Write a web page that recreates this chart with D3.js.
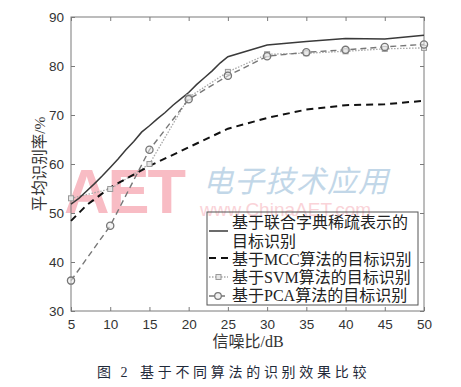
<!DOCTYPE html>
<html>
<head>
<meta charset="utf-8">
<script src="https://cdn.jsdelivr.net/npm/d3@7"></script>
<style>
  body { margin: 0; background: #fff; }
  svg { display: block; }
</style>
</head>
<body>
<svg width="461" height="387"></svg>
<script>
// data
var snr = [5, 10, 15, 20, 25, 30, 35, 40, 45, 50];
var jointX = [5, 6, 7, 8, 9, 10, 11, 12, 13, 14, 15, 16, 17, 18, 19, 20, 21, 22, 23, 24, 25, 30, 35, 40, 45, 50];
var jointY = [51.8, 53.0, 54.5, 56.0, 57.6, 59.3, 61.0, 62.9, 64.6, 66.5, 67.8, 69.2, 70.5, 72.0, 73.3, 74.6, 76.2, 77.6, 79.0, 80.6, 81.9, 84.3, 85.0, 85.6, 85.5, 86.3];
var mccX = [5, 6, 7, 8, 9, 10, 15, 20, 25, 30, 35, 40, 45, 50];
var mccY = [48.4, 50.0, 51.6, 52.8, 54.0, 55.2, 59.6, 63.4, 67.2, 69.4, 71.1, 72.0, 72.2, 72.9];
var svmY = [53.0, 54.9, 60.0, 73.6, 78.8, 82.4, 82.6, 83.0, 83.5, 83.7];
var pcaY = [36.2, 47.4, 62.9, 73.2, 78.0, 82.0, 82.8, 83.3, 83.9, 84.4];
var xTicks = [5, 10, 15, 20, 25, 30, 35, 40, 45, 50];
var yTicks = [30, 40, 50, 60, 70, 80, 90];
var legendLabels = [["基于联合字典稀疏表示的", "目标识别"], ["基于MCC算法的目标识别"], ["基于SVM算法的目标识别"], ["基于PCA算法的目标识别"]];

var svg = d3.select("svg");
var x = d3.scaleLinear().domain([5, 50]).range([71, 424]);
var y = d3.scaleLinear().domain([30, 90]).range([311, 17]);

var serif = "'Liberation Serif','Noto Sans CJK SC',serif";

// watermark
svg.append("text").attr("x", 64).attr("y", 213)
  .style("font-family", "'Liberation Sans',Arial,sans-serif").style("font-weight", "bold")
  .style("font-size", "63px").style("fill", "#f8bcc4").style("letter-spacing", "-2px")
  .text("AET");
svg.append("text").attr("x", 203).attr("y", 192)
  .style("font-family", "'Noto Sans CJK SC',sans-serif").style("font-size", "30px")
  .style("fill", "#c2d7e8").style("font-style", "italic").style("letter-spacing", "1px")
  .text("电子技术应用");
svg.append("text").attr("x", 200).attr("y", 216)
  .style("font-family", "'Liberation Sans',Arial,sans-serif").style("font-size", "19px")
  .style("fill", "#fad3d8")
  .text("www.ChinaAET.com");

// axes frame
svg.append("rect").attr("x", 71).attr("y", 17).attr("width", 353).attr("height", 294)
  .attr("fill", "none").attr("stroke", "#7a7a7a").attr("stroke-width", 1);

var xAxis = svg.append("g").attr("transform", "translate(0,311)")
  .call(d3.axisBottom(x).tickValues(xTicks).tickSize(-4).tickPadding(8));
var xTop = svg.append("g").attr("transform", "translate(0,17)")
  .call(d3.axisTop(x).tickValues(xTicks).tickSize(-4).tickFormat(""));
var yAxis = svg.append("g").attr("transform", "translate(71,0)")
  .call(d3.axisLeft(y).tickValues(yTicks).tickSize(-4).tickPadding(7));
var yRight = svg.append("g").attr("transform", "translate(424,0)")
  .call(d3.axisRight(y).tickValues(yTicks).tickSize(-4).tickFormat(""));

[xAxis, xTop, yAxis, yRight].forEach(function (g) {
  g.select(".domain").remove();
  g.selectAll("line").attr("stroke", "#7a7a7a");
  g.selectAll("text").style("font-family", "'Liberation Sans',Arial,sans-serif")
    .style("font-size", "13.5px").attr("fill", "#333");
});

// lines
var line = d3.line().x(function (d) { return x(d[0]); }).y(function (d) { return y(d[1]); });

var jointData = jointX.map(function (v, i) { return [v, jointY[i]]; });
var mccData = mccX.map(function (v, i) { return [v, mccY[i]]; });
var svmData = snr.map(function (v, i) { return [v, svmY[i]]; });
var pcaData = snr.map(function (v, i) { return [v, pcaY[i]]; });

svg.append("path").datum(svmData).attr("d", line).attr("fill", "none")
  .attr("stroke", "#a8a8a8").attr("stroke-width", 1.3).attr("stroke-dasharray", "1.5,1.5");
svg.append("path").datum(pcaData).attr("d", line).attr("fill", "none")
  .attr("stroke", "#777").attr("stroke-width", 1.4).attr("stroke-dasharray", "6,4");
svg.append("path").datum(mccData).attr("d", line).attr("fill", "none")
  .attr("stroke", "#111").attr("stroke-width", 2).attr("stroke-dasharray", "7,5");
svg.append("path").datum(jointData).attr("d", line).attr("fill", "none")
  .attr("stroke", "#3a3a3a").attr("stroke-width", 1.5);

svg.selectAll("rect.svm").data(svmData).enter().append("rect").attr("class", "svm")
  .attr("x", function (d) { return x(d[0]) - 2.5; }).attr("y", function (d) { return y(d[1]) - 2.5; })
  .attr("width", 5).attr("height", 5)
  .attr("fill", "#e6e6e6").attr("stroke", "#9a9a9a").attr("stroke-width", 1);
svg.selectAll("circle.pca").data(pcaData).enter().append("circle").attr("class", "pca")
  .attr("cx", function (d) { return x(d[0]); }).attr("cy", function (d) { return y(d[1]); })
  .attr("r", 3.6).attr("fill", "#ececec").attr("fill-opacity", 0.5)
  .attr("stroke", "#767676").attr("stroke-width", 1.3);

// legend
var lg = svg.append("g");
lg.append("rect").attr("x", 207).attr("y", 212).attr("width", 211).attr("height", 93)
  .attr("fill", "none").attr("stroke", "#555").attr("stroke-width", 1);
var sampleY = [231, 258, 277, 296];
var textY = [[228, 247], [265], [283], [301]];
var styles = [
  { stroke: "#3a3a3a", w: 1.5, dash: null },
  { stroke: "#111", w: 2, dash: "7,5" },
  { stroke: "#a8a8a8", w: 1.3, dash: "1.5,1.5" },
  { stroke: "#777", w: 1.4, dash: "6,4" }
];
styles.forEach(function (s, i) {
  lg.append("line").attr("x1", 209).attr("x2", 228).attr("y1", sampleY[i]).attr("y2", sampleY[i])
    .attr("stroke", s.stroke).attr("stroke-width", s.w).attr("stroke-dasharray", s.dash);
  legendLabels[i].forEach(function (t, j) {
    lg.append("text").attr("x", 232).attr("y", textY[i][j])
      .style("font-family", serif).style("font-size", "16px").attr("fill", "#222").text(t);
  });
});
lg.append("rect").attr("x", 216).attr("y", 274.5).attr("width", 5).attr("height", 5)
  .attr("fill", "#e6e6e6").attr("stroke", "#9a9a9a");
lg.append("circle").attr("cx", 218).attr("cy", 296).attr("r", 3.3)
  .attr("fill", "#f0f0f0").attr("stroke", "#767676").attr("stroke-width", 1.2);

// axis titles
svg.append("text").attr("x", 248).attr("y", 347).attr("text-anchor", "middle")
  .style("font-family", serif).style("font-size", "16px").attr("fill", "#333").text("信噪比/dB");
svg.append("text").attr("transform", "translate(45,164) rotate(-90)").attr("text-anchor", "middle")
  .style("font-family", serif).style("font-size", "15.5px").attr("fill", "#333").text("平均识别率/%");

// caption
svg.append("text").attr("x", 97).attr("y", 377)
  .style("font-family", serif).style("font-size", "14px").attr("fill", "#1f2a3a")
  .style("letter-spacing", "3px").text("图 2");
svg.append("text").attr("x", 140).attr("y", 377)
  .style("font-family", serif).style("font-size", "14px").attr("fill", "#1f2a3a")
  .style("letter-spacing", "3.7px").text("基于不同算法的识别效果比较");
</script>
</body>
</html>
